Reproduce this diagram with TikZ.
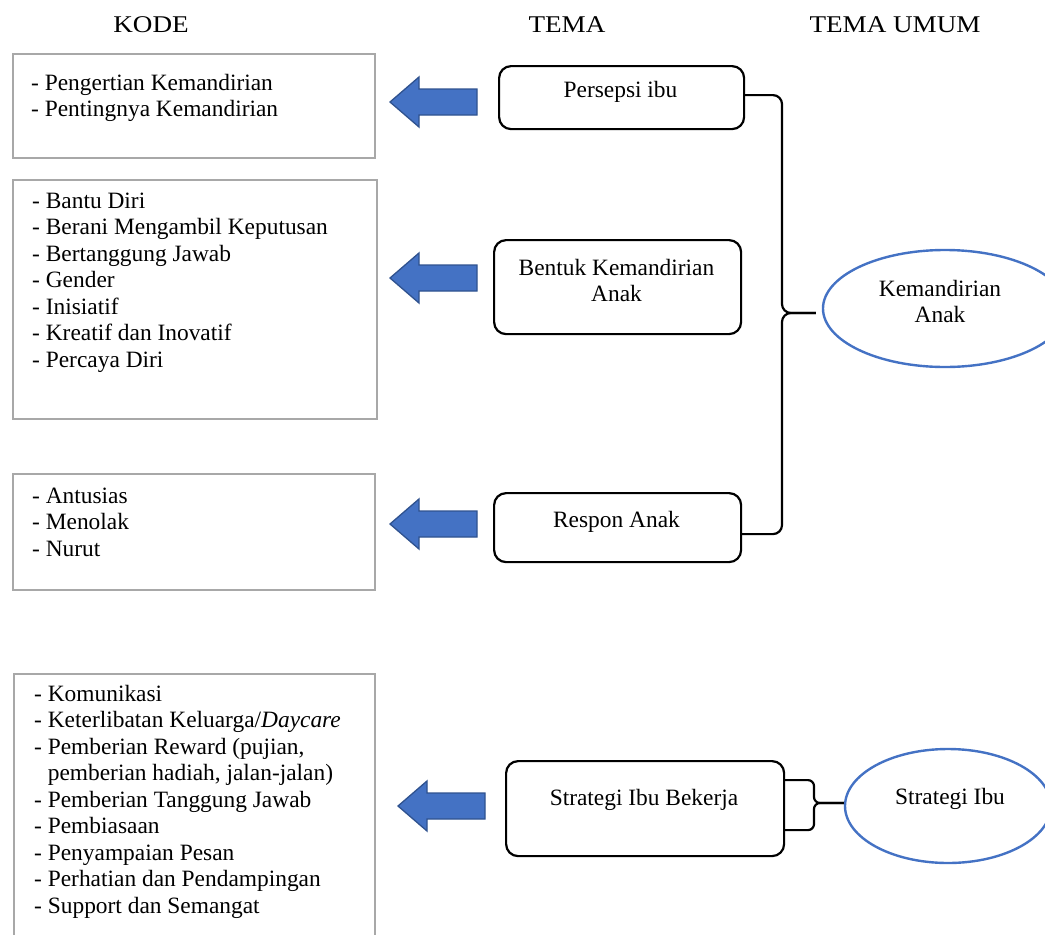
\documentclass[tikz,border=0pt]{standalone}
\usepackage{fontspec}
\usepackage{graphicx}
\setmainfont{Liberation Serif}
\usetikzlibrary{calc,shapes.geometric}
\definecolor{boxgray}{HTML}{A8A8A8}
\definecolor{accblue}{HTML}{4472C4}
\definecolor{arrowedge}{HTML}{2F528F}
\newcommand\hdtext[1]{\scalebox{1.13}[1]{#1}}
\newcommand\blockarr[1]{\draw[barrow] (#1) ++(0,-13) -- ++(-58,0) -- ++(0,-12) -- ++(-29,25) -- ++(29,25) -- ++(0,-12) -- ++(58,0) -- cycle;}
\tikzset{
  txt/.style={font=\fontsize{23.4}{26.5}\selectfont, inner sep=0pt},
  headtxt/.style={font=\fontsize{24}{28}\selectfont, inner sep=0pt, anchor=base},
  kodebox/.style={draw=boxgray, line width=2.4pt, anchor=north west, inner sep=0pt},
  temabox/.style={draw=black, line width=2.2pt, rounded corners=12pt, anchor=north west, inner sep=0pt},
  umumell/.style={draw=accblue, line width=2.4pt, ellipse, inner sep=0pt},
  barrow/.style={fill=accblue, draw=arrowedge, line width=1.3pt, line join=miter},
  bracefig/.style={draw=black, line width=2.2pt, line join=round},
}
\begin{document}
\begin{tikzpicture}[x=1pt,y=-1pt]
\useasboundingbox (0,0) rectangle (1045,935);
\clip (0,0) rectangle (1045,935);

% headings
\node[headtxt] (hkode) at (151,32) {\hdtext{KODE}};
\node[headtxt] (htema) at (567,32) {\hdtext{TEMA}};
\node[headtxt] (humum) at (895,32) {\hdtext{TEMA UMUM}};

% kode boxes
\node[kodebox, minimum width=362pt, minimum height=104pt] (k1) at (12,53) {};
\node[kodebox, minimum width=364pt, minimum height=239pt] (k2) at (12,179) {};
\node[kodebox, minimum width=362pt, minimum height=116pt] (k3) at (12,473) {};
\node[kodebox, minimum width=361pt, minimum height=320pt] (k4) at (13,673) {};

\node[txt, anchor=base west] (k1t) at (31,90) {\begin{tabular}[t]{@{}l@{}}- Pengertian Kemandirian\\- Pentingnya Kemandirian\end{tabular}};
\node[txt, anchor=base west] (k2t) at (32,208) {\begin{tabular}[t]{@{}l@{}}- Bantu Diri\\- Berani Mengambil Keputusan\\- Bertanggung Jawab\\- Gender\\- Inisiatif\\- Kreatif dan Inovatif\\- Percaya Diri\end{tabular}};
\node[txt, anchor=base west] (k3t) at (32,503) {\begin{tabular}[t]{@{}l@{}}- Antusias\\- Menolak\\- Nurut\end{tabular}};
\node[txt, anchor=base west] (k4t) at (34,701) {\begin{tabular}[t]{@{}l@{}}- Komunikasi\\- Keterlibatan Keluarga/\textit{Daycare}\\- Pemberian Reward (pujian,\\\hphantom{-}\ pemberian hadiah, jalan-jalan)\\- Pemberian Tanggung Jawab\\- Pembiasaan\\- Penyampaian Pesan\\- Perhatian dan Pendampingan\\- Support dan Semangat\end{tabular}};

% tema boxes
\node[temabox, minimum width=245pt, minimum height=63pt] (t1) at (498,65) {};
\node[temabox, minimum width=247pt, minimum height=94pt] (t2) at (493,239) {};
\node[temabox, minimum width=247pt, minimum height=69pt] (t3) at (493,492) {};
\node[temabox, minimum width=278pt, minimum height=95pt] (t4) at (505,760) {};

\node[txt, anchor=base] (t1t) at (620.5,97) {Persepsi ibu};
\node[txt, anchor=base] (t2t) at (616.5,275) {\begin{tabular}[t]{@{}c@{}}Bentuk Kemandirian\\Anak\end{tabular}};
\node[txt, anchor=base] (t3t) at (616.5,527) {Respon Anak};
\node[txt, anchor=base] (t4t) at (644,805) {Strategi Ibu Bekerja};

% tema umum ellipses
\node[umumell, minimum width=244pt, minimum height=117pt] (km) at (945,308.5) {};
\node[umumell, minimum width=206pt, minimum height=114pt] (si) at (948,806) {};
\node[txt, anchor=base] (kmt) at (940,296) {\begin{tabular}[t]{@{}c@{}}Kemandirian\\Anak\end{tabular}};
\node[txt, anchor=base] (sit) at (950,804) {Strategi Ibu};

% block arrows
\coordinate (a1) at (477,102);
\coordinate (a2) at (477,278);
\coordinate (a3) at (477,524);
\coordinate (a4) at (485,806);
\blockarr{a1}
\blockarr{a2}
\blockarr{a3}
\blockarr{a4}

% big brace
\coordinate (b1s) at ([yshift=2.5pt]t1.east);
\coordinate (b1e) at ([yshift=-6.5pt]t3.east);
\coordinate (b1tip) at ([xshift=-6pt,yshift=-4.5pt]km.west);
\coordinate (bx) at (782,0);
\draw[bracefig, rounded corners=9pt] (b1s) -- (b1s -| bx) -- (bx |- b1tip) -- (b1tip);
\draw[bracefig, rounded corners=9pt] (b1e) -- (b1e -| bx) -- (bx |- b1tip) -- (b1tip);

% small brace
\coordinate (b2s) at ([yshift=28.5pt]t4.east);
\coordinate (b2e) at ([yshift=-21.5pt]t4.east);
\coordinate (b2tip) at ([yshift=3pt]si.west);
\coordinate (bx2) at (814,0);
\draw[bracefig, rounded corners=6pt] (b2s) -- (b2s -| bx2) -- (bx2 |- b2tip) -- (b2tip);
\draw[bracefig, rounded corners=6pt] (b2e) -- (b2e -| bx2) -- (bx2 |- b2tip) -- (b2tip);
\end{tikzpicture}
\end{document}
